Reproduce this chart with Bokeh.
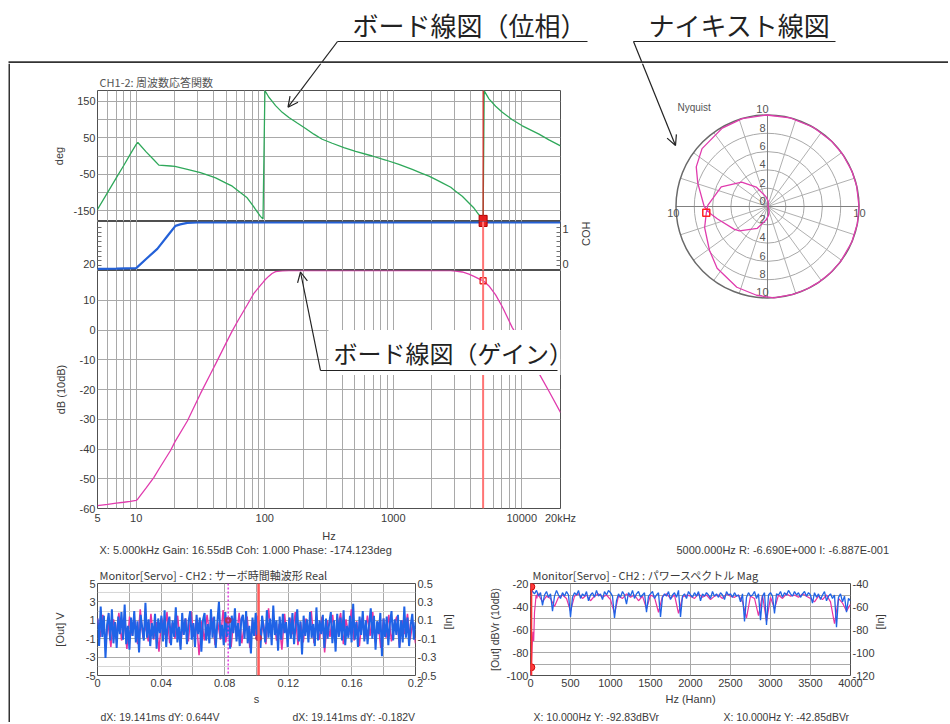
import numpy as np
from bokeh.plotting import figure
from bokeh.layouts import column, row
from bokeh.models import (Range1d, FixedTicker, LinearAxis, Grid, Label, Arrow,
                          OpenHead, Span)
from bokeh.core.properties import value
from bokeh.embed import file_html
from bokeh.resources import INLINE

FONT = "Noto Sans CJK JP"
AXFONT = "Liberation Sans"
TXT = "#3a3a3a"
GRID = "#a9a9a9"
FRAME = "#505050"
GREEN = "#2fa85a"
MAGENTA = "#e03cae"
BLUE = "#2461d8"

# ---------------- data : Bode ----------------
bode_freq_hz = [5, 6, 7, 8, 9, 10, 10.3, 12, 13.7, 15, 18.5, 20, 25, 31.6, 38,
                41.5, 50, 55.9, 62, 73, 82, 84.5, 92.6, 97, 100.3, 107.7, 114,
                121.4, 136.8, 154.2, 179, 208, 241, 280, 335, 413, 509, 686, 871,
                1107, 1405, 1650, 1894, 2150, 2406, 2800, 3055, 3442, 3879, 4243,
                4641, 5000, 5100, 5550, 6255, 7050, 8433, 10090, 13600, 16270, 20000]
gain_db = [-59.0, -58.6, -58.2, -57.9, -57.6, -57.3, -56.8, -53.0, -49.6, -46.8,
           -40.5, -37.6, -30.6, -21.4, -14.6, -11.4, -4.4, -0.3, 3.2, 8.4,
           12.2, 12.9, 15.0, 16.0, 16.8, 18.1, 19.0, 19.6, 19.9, 20.0,
           20.0, 20.0, 20.0, 20.0, 20.0, 20.0, 20.0, 20.0, 20.0, 20.0,
           20.0, 20.0, 20.0, 20.0, 20.0, 20.0, 19.8, 19.5, 18.8, 18.0,
           17.2, 16.55, 16.3, 14.8, 11.8, 7.8, 0.8, -4.6, -14.6, -20.6, -27.7]
phase_deg = [-147, -100, -60, -26, 5, 32, 37, 10.6, -10.4, -25,
             -27.5, -28.5, -36.5, -46, -55.5, -60, -74.5, -83, -95.4, -115,
             -139, -146, -166, -173, 180, 161.5, 150.9, 138.5, 120, 106,
             90.5, 75.7, 60, 46, 35, 23, 13, 0, -11, -23,
             -37, -46.9, -55.4, -65.1, -73.8, -86, -97, -110.8, -129.2, -143,
             -161.5, -174.1, 179, 157, 136.6, 120, 99.7, 83, 60, 44.3, 27.7]
coh_freq_hz = [5, 7, 10, 10.2, 12, 14.6, 18, 20.2, 22, 25, 30, 20000]
coherence = [0.035, 0.04, 0.05, 0.07, 0.245, 0.45, 0.76, 0.93, 0.96, 0.99, 1.0, 1.0]

cursor_freq_hz = 5000
cursor_gain_db = 16.55
cursor_phase_deg = -174.123
cursor_coh = 1.0
nyq_cursor = (-6.690, -0.6887)

bode_x_ticks = [5, 10, 100, 1000, 10000, 20000]
bode_x_labels = ["5", "10", "100", "1000", "10000", "20kHz"]
bode_x_minor = [6, 7, 8, 9, 20, 30, 40, 50, 60, 70, 80, 90, 200, 300, 400, 500,
                600, 700, 800, 900, 2000, 3000, 4000, 5000, 6000, 7000, 8000, 9000]
phase_ticks = [150, 50, -50, -150]
phase_labels = ["150", "50", "-50", "-150"]
phase_minor = [100, 0, -100]
gain_ticks = [10, 0, -10, -20, -30, -40, -50, -60]
gain_labels = ["10", "0", "-10", "-20", "-30", "-40", "-50", "-60"]

# ---------------- data : time waveform ----------------
in_signal = [0.12, -0.18, 0.25, -0.08, 0.15, -0.31, 0.05, 0.18, -0.12, 0.22, -0.15, 0.08, -0.2, 0.14, -0.05, 0.19, -0.11, 0.27, -0.16, 0.04,
             -0.22, 0.13, -0.07, 0.2, -0.14, 0.09, -0.25, 0.16, 0.02, -0.12, 0.29, -0.09, 0.11, -0.18, 0.07, -0.1, 0.17, -0.21, 0.12, -0.04,
             0.15, -0.13, 0.21, -0.19, 0.06, 0.14, -0.17, 0.1, -0.08, 0.24, -0.14, 0.03, -0.22, 0.18, -0.06, 0.12, -0.16, 0.09, 0.2, -0.11,
             0.07, -0.19, 0.16, -0.05, 0.13, -0.24, 0.1, 0.18, -0.12, 0.06, -0.15, 0.22, -0.09, 0.14, -0.2, 0.08, 0.3, -0.1, 0.05, -0.17,
             0.19, -0.08, 0.12, -0.21, 0.15, -0.04, 0.23, -0.13, 0.07, -0.18, 0.11, 0.16, -0.1, 0.2, -0.15, 0.04, -0.26, 0.13, -0.07, 0.18,
             -0.12, 0.09, -0.2, 0.15, 0.02, -0.14, 0.21, -0.09, 0.12, -0.17, 0.26, -0.06, 0.1, -0.23, 0.14, -0.11, 0.17, -0.04, 0.08, -0.19,
             0.13, -0.1, 0.18, -0.16, 0.05, 0.22, -0.13, 0.09, -0.27, 0.15, -0.07, 0.11, -0.14, 0.19, -0.09, 0.06, -0.18, 0.24, -0.12, 0.1,
             -0.05, 0.16, -0.2, 0.12, -0.1, 0.07, 0.19, -0.15, 0.1, -0.24, 0.17, -0.08, 0.13, -0.12, 0.21, -0.17, 0.04, -0.09, 0.15, -0.14,
             0.28, -0.11, 0.08, -0.19, 0.14, -0.06, 0.2, -0.13, 0.1, -0.16, 0.06, 0.23, -0.1, 0.15, -0.22, 0.09, -0.05, 0.18, -0.29, 0.12,
             -0.08, 0.14, -0.17, 0.07, 0.2, -0.12, 0.11, -0.06, 0.16, -0.2, 0.1, -0.14, 0.25, -0.09, 0.13, -0.18, 0.05, 0.17, -0.11, 0.08]
out_signal = [1.2, -0.8, 1.6, -1.4, 0.6, -1.9, 1.1, -0.5, 1.8, -1.2, 0.9, -2.1, 1.4, -0.7, 1.0, -1.6, 2.2, -0.9, 0.4, -1.3,
              1.7, -1.1, 0.8, -2.4, 1.3, -0.6, 1.9, -1.5, 0.7, -1.0, 1.5, -1.8, 0.5, 1.2, -1.3, 2.0, -0.8, 1.1, -2.8, 0.9,
              -1.2, 1.6, -0.6, 1.3, -1.7, 0.8, -1.1, 2.1, -1.4, 0.6, -1.9, 1.2, -0.9, 1.8, -1.5, 0.7, 1.4, -2.0, 1.0, -0.7,
              1.5, -1.3, 0.9, -1.6, 2.3, -0.8, 1.1, -1.2, 0.6, -2.2, 1.7, -1.0, 1.3, -0.5, 1.9, -1.7, 0.8, -1.4, 1.2, -0.9,
              2.0, -1.5, 0.7, -1.1, 1.4, -2.5, 1.0, -0.8, 1.6, -1.3, 0.5, 1.8, -1.6, 1.1, -0.6, 2.2, -1.2, 0.9, -1.8, 1.3,
              -1.0, 1.5, -0.7, 1.9, -1.4, 0.8, -2.0, 1.2, -0.9, 1.6, -1.3, 0.6, 1.4, -1.9, 1.0, -0.5, 1.7, -1.1, 0.8, -1.5]
record_length_s = 0.2
cursor_a_s = 0.0822
cursor_b_s = 0.1013
time_markers_s = [0.0822, 0.1013]
time_markers_v = [1.0, -0.9]
time_ticks = [0, 0.04, 0.08, 0.12, 0.16, 0.2]
time_labels = ["0", "0.04", "0.08", "0.12", "0.16", "0.2"]
time_minor = [0.02, 0.06, 0.1, 0.14, 0.18]
out_v_ticks = [5, 3, 1, -1, -3, -5]
out_v_labels = ["5", "3", "1", "-1", "-3", "-5"]
in_v_ticks = [0.5, 0.3, 0.1, -0.1, -0.3, -0.5]
in_v_labels = ["0.5", "0.3", "0.1", "-0.1", "-0.3", "-0.5"]

# ---------------- data : power spectrum ----------------
spec_in_step_hz = 25
spec_in_dbvr = [-43, -47, -49, -46, -51, -48, -59, -50, -47, -52, -49, -64, -51, -46, -50, -53, -48, -51, -47, -50,
                -69, -52, -48, -50, -46, -53, -49, -51, -47, -55, -50, -48, -52, -46, -51, -49, -54, -47, -50, -46,
                -48, -51, -70, -55, -49, -52, -47, -50, -58, -48, -51, -46, -53, -49, -47, -52, -50, -48, -65, -51,
                -49, -47, -53, -50, -48, -69, -52, -49, -51, -47, -54, -50, -48, -52, -46, -69, -51, -49, -53, -47,
                -50, -52, -48, -51, -47, -55, -49, -51, -48, -50, -53, -47, -51, -49, -52, -48, -50, -54, -47, -50,
                -49, -52, -48, -51, -50, -56, -49, -73, -52, -48, -51, -50, -47, -53, -49, -72, -51, -48, -76, -50,
                -48, -51, -66, -49, -50, -47, -52, -48, -50, -46, -49, -51, -47, -50, -48, -52, -49, -47, -51, -48,
                -50, -57, -48, -52, -49, -54, -50, -47, -55, -51, -49, -53, -50, -78, -52, -49, -56, -51, -65, -53, -55]
spec_out_freq_hz = [0, 10, 20, 30, 40, 50, 60, 70, 80, 90] + list(range(100, 4001, 50))
spec_out_dbvr = [-100, -92.8, -75, -62, -70, -45, -38, -30, -33, -28,
                 -30, -36, -31, -33, -40, -32, -30, -33, -44, -31,
                 -29, -33, -30, -35, -31, -29, -32, -30, -34, -46,
                 -31, -33, -29, -32, -30, -35, -31, -42, -30, -32,
                 -45, -31, -29, -33, -30, -46, -32, -30, -31, -33,
                 -29, -32, -30, -34, -31, -30, -33, -29, -31, -32,
                 -30, -36, -50, -31, -33, -48, -30, -53, -32, -42,
                 -30, -33, -29, -31, -30, -32, -29, -31, -33, -36,
                 -31, -34, -30, -36, -55, -33, -37, -44, -38]
spec_cursor_hz = 10
spec_cursor_out = -92.83
spec_cursor_in = -42.85
spec_x_ticks = [0, 500, 1000, 1500, 2000, 2500, 3000, 3500, 4000]
spec_x_labels = ["0", "500", "1000", "1500", "2000", "2500", "3000", "3500", "4000"]
spec_out_ticks = [-20, -40, -60, -80, -100]
spec_out_labels = ["-20", "-40", "-60", "-80", "-100"]
spec_in_ticks = [-40, -60, -80, -100, -120]
spec_in_labels = ["-40", "-60", "-80", "-100", "-120"]

# ---------------- helpers ----------------
def overrides(ticks, labels):
    return {t: l for t, l in zip(ticks, labels)}


def style_axis(ax, size="11px", standoff=2, label_standoff=2):
    ax.major_label_text_font = AXFONT
    ax.major_label_text_font_size = size
    ax.major_label_text_color = TXT
    ax.axis_label_text_font = AXFONT
    ax.axis_label_text_font_size = size
    ax.axis_label_text_font_style = "normal"
    ax.axis_label_text_color = TXT
    ax.axis_line_color = None
    ax.major_tick_line_color = None
    ax.minor_tick_line_color = None
    ax.major_tick_out = 0
    ax.minor_tick_out = 0
    ax.major_label_standoff = standoff
    ax.axis_label_standoff = label_standoff


def decor(w, h, x0, x1, y_top, y_bot, left=0, right=0):
    p = figure(width=w, height=h, x_range=Range1d(x0, x1), y_range=Range1d(y_bot, y_top),
               x_axis_location=None, y_axis_location=None, toolbar_location=None,
               output_backend="svg", min_border=0, min_border_left=left,
               min_border_right=right, outline_line_color=None)
    p.grid.visible = False
    return p


def put_text(p, x, y, txt, size="11px", color=TXT, align="left", font=FONT):
    p.text(x=[x], y=[y], text=[txt], text_font=value(font), text_font_size=size,
           text_color=color, text_baseline="middle", text_align=align)


def style_title(p, txt):
    p.title.text = txt
    p.title.text_font = FONT
    p.title.text_font_size = "11px"
    p.title.text_font_style = "normal"
    p.title.text_color = TXT
    p.title.standoff = 2
    p.title.offset = 2


L10_5, L10_4000 = np.log10(5), np.log10(4000)


def sx_to_f(sx):
    return 10 ** (L10_5 + (sx - 97) / 463 * L10_4000)


def sy_to_phase(sy):
    return 180 - (sy - 90) / 131 * 360


def sy_to_gain(sy):
    return 20 - (sy - 270) / 238 * 80


# ---------------- header with call-outs ----------------
header = decor(948, 63, 0, 948, 0, 63)
put_text(header, 352, 24, "ボード線図（位相）", size="26px", color="#222222")
put_text(header, 648, 24, "ナイキスト線図", size="26px", color="#222222")
header.segment(x0=[337, 633, 337, 633], y0=[41, 41, 41, 41],
               x1=[587, 835, 320.4, 641.9], y1=[41, 41, 63, 63],
               line_color="#222222", line_width=1.2)
header.segment(x0=[8], y0=[62], x1=[948], y1=[62], line_color="#333333", line_width=2.5)

bar = decor(10, 659, 0, 10, 63, 722)
bar.quad(left=[8], right=[10], top=[63], bottom=[722], fill_color="#333333", line_color=None)

# ---------------- Bode title strip ----------------
tstrip = decor(605, 27, 97, 560, 63, 90, left=87, right=55)
put_text(tstrip, 99, 81, "CH1-2: 周波数応答関数", size="11px", color="#555555")
tstrip.segment(x0=[320.4], y0=[63], x1=[300.1], y1=[90], line_color="#222222", line_width=1.2)

x_rng = Range1d(5, 20000)
xtick = FixedTicker(ticks=bode_x_ticks, minor_ticks=bode_x_minor)


def bode_fig(h, bottom, y_rng):
    p = figure(width=605, height=h, x_range=x_rng, y_range=y_rng, x_axis_type="log",
               x_axis_location=None, toolbar_location=None, output_backend="svg",
               min_border_left=87, min_border_right=55, min_border_top=0,
               min_border_bottom=bottom, outline_line_color=FRAME)
    return p


# phase panel
pp = bode_fig(131, 0, Range1d(-180, 180))
ptick = FixedTicker(ticks=phase_ticks, minor_ticks=phase_minor)
pp.yaxis.ticker = ptick
pp.ygrid.ticker = ptick
pp.yaxis.major_label_overrides = overrides(phase_ticks, phase_labels)
pp.yaxis.axis_label = "deg"
style_axis(pp.yaxis[0], label_standoff=5)
pp.ygrid.grid_line_color = GRID
pp.ygrid.minor_grid_line_color = GRID
pp.add_layout(Grid(dimension=0, ticker=xtick, grid_line_color=GRID, minor_grid_line_color=GRID))
pp.line(bode_freq_hz, phase_deg, line_color=GREEN, line_width=1.3)
pp.add_layout(Span(location=cursor_freq_hz, dimension="height", line_color="#e02020", line_width=1.2))
pp.scatter([cursor_freq_hz], [cursor_phase_deg], marker="square", size=8,
           fill_color="#e82020", line_color="#b00000")
pp.add_layout(Arrow(end=OpenHead(size=10, line_width=1.2, line_color="#222222"),
                    x_start=sx_to_f(300.1), y_start=sy_to_phase(90),
                    x_end=sx_to_f(287.5), y_end=sy_to_phase(106.7),
                    line_color="#222222", line_width=1.2))

# coherence panel
pc = bode_fig(49, 0, Range1d(0, 1.02))
coh_minor = [0.1, 0.2, 0.3, 0.4, 0.5, 0.6, 0.7, 0.8, 0.9]
pc.yaxis.ticker = FixedTicker(ticks=[0.14], minor_ticks=coh_minor)
pc.yaxis.major_label_overrides = {0.14: "20"}
style_axis(pc.yaxis[0])
pc.yaxis.minor_tick_line_color = "#707070"
pc.yaxis.minor_tick_in = 4
pc.ygrid.visible = False
rax = LinearAxis(ticker=FixedTicker(ticks=[0.14, 0.87], minor_ticks=coh_minor),
                 major_label_overrides={0.14: "0", 0.87: "1"}, axis_label="COH")
style_axis(rax, label_standoff=14)
rax.minor_tick_line_color = "#707070"
rax.minor_tick_in = 4
rax.axis_label_orientation = np.pi / 2
pc.add_layout(rax, "right")
pc.add_layout(Grid(dimension=0, ticker=xtick, grid_line_color=GRID, minor_grid_line_color=GRID))
pc.line(coh_freq_hz, coherence, line_color=BLUE, line_width=2.2)
pc.add_layout(Span(location=cursor_freq_hz, dimension="height", line_color="#ff7474", line_width=2))
pc.scatter([cursor_freq_hz], [cursor_coh], marker="square", size=8,
           fill_color="#e82020", line_color="#b00000")

# gain panel
pg = figure(width=605, height=274, x_range=x_rng, y_range=Range1d(-60, 20), x_axis_type="log",
            toolbar_location=None, output_backend="svg", min_border_left=87,
            min_border_right=55, min_border_top=0, min_border_bottom=36, outline_line_color=FRAME)
pg.xaxis.ticker = xtick
pg.xgrid.ticker = xtick
pg.xaxis.major_label_overrides = overrides(bode_x_ticks, bode_x_labels)
pg.xaxis.axis_label = "Hz"
style_axis(pg.xaxis[0], standoff=3, label_standoff=3)
pg.xgrid.grid_line_color = GRID
pg.xgrid.minor_grid_line_color = GRID
gtick = FixedTicker(ticks=gain_ticks)
pg.yaxis.ticker = gtick
pg.ygrid.ticker = gtick
pg.yaxis.major_label_overrides = overrides(gain_ticks, gain_labels)
pg.yaxis.axis_label = "dB (10dB)"
style_axis(pg.yaxis[0], label_standoff=10)
pg.ygrid.grid_line_color = GRID
pg.line(bode_freq_hz, gain_db, line_color=MAGENTA, line_width=1.3)
pg.add_layout(Span(location=cursor_freq_hz, dimension="height", line_color="#ff7474", line_width=2))
pg.scatter([cursor_freq_hz], [cursor_gain_db], marker="square", size=6,
           fill_color=None, line_color="#e82020", line_width=1.3)
pg.add_layout(Label(x=sx_to_f(328), y=sy_to_gain(352), text="ボード線図（ゲイン）",
                    text_font=FONT, text_font_size="24px", text_color="#222222",
                    text_baseline="middle", text_align="left",
                    background_fill_color="white", padding=5))
pg.add_layout(Arrow(end=None, x_start=sx_to_f(320), y_start=sy_to_gain(370),
                    x_end=sx_to_f(557), y_end=sy_to_gain(370),
                    line_color="#222222", line_width=1.2))
pg.add_layout(Arrow(end=OpenHead(size=10, line_width=1.2, line_color="#222222"),
                    x_start=sx_to_f(320), y_start=sy_to_gain(370),
                    x_end=sx_to_f(300), y_end=sy_to_gain(271.5),
                    line_color="#222222", line_width=1.2))

# ---------------- Nyquist ----------------
S, CX, CY = 9.15, 767, 206


def nx(sx):
    return (sx - CX) / S


def ny(sy):
    return (CY - sy) / S


nq = figure(width=333, height=481, x_range=Range1d(nx(615), nx(948)), y_range=Range1d(ny(544), ny(63)),
            x_axis_location=None, y_axis_location=None, toolbar_location=None,
            output_backend="svg", min_border=0, outline_line_color=None)
nq.grid.visible = False
rings = [2, 4, 6, 8]
nq.circle(x=[0] * len(rings), y=[0] * len(rings), radius=rings, fill_color=None,
          line_color="#a8a8a8", line_width=1)
spoke_deg = np.arange(0, 360, 18)
nq.segment(x0=np.zeros(len(spoke_deg)), y0=np.zeros(len(spoke_deg)),
           x1=10 * np.cos(np.deg2rad(spoke_deg)), y1=10 * np.sin(np.deg2rad(spoke_deg)),
           line_color="#b0b0b0", line_width=1)
nq.segment(x0=[-10, 0], y0=[0, -10], x1=[10, 0], y1=[0, 10], line_color="#808080", line_width=1)
nq.circle(x=[0], y=[0], radius=[10], fill_color=None, line_color="#6a6a6a", line_width=1.5)
ring_labels = ["10", "8", "6", "4", "2", "0", "2", "4", "6", "8", "10"]
ring_vals = [10, 8, 6, 4, 2, 0, -2, -4, -6, -8, -10]
nq.text(x=[-0.55] * len(ring_vals), y=[v + 0.62 for v in ring_vals], text=ring_labels,
        text_font=value(AXFONT), text_font_size="11px", text_color="#555555",
        text_align="center", text_baseline="middle")
nq.text(x=[-10.3, 10.05], y=[-0.72, -0.72], text=["10", "10"], text_font=value(AXFONT),
        text_font_size="11px", text_color="#555555", text_align="center", text_baseline="middle")
nq.text(x=[nx(677)], y=[ny(107)], text=["Nyquist"], text_font=value(AXFONT),
        text_font_size="10px", text_color="#555555", text_align="left", text_baseline="middle")
mag = 10 ** (np.array(gain_db) / 20.0)
ph = np.deg2rad(phase_deg)
nq.line(mag * np.cos(ph), mag * np.sin(ph), line_color=MAGENTA, line_width=1.3)
nq.scatter([nyq_cursor[0]], [nyq_cursor[1]], marker="square", size=7, fill_color=None,
           line_color="#ff2020", line_width=1.5)
nq.add_layout(Arrow(end=OpenHead(size=10, line_width=1.2, line_color="#222222"),
                    x_start=nx(641.9), y_start=ny(63), x_end=nx(675), y_end=ny(145),
                    line_color="#222222", line_width=1.2))

# ---------------- readouts 1 ----------------
rd1 = decor(938, 12, 10, 948, 544, 556)
put_text(rd1, 99, 549, "X: 5.000kHz  Gain: 16.55dB Coh: 1.000 Phase: -174.123deg", size="11px", font=AXFONT)
put_text(rd1, 676, 549, "5000.000Hz   R: -6.690E+000   I: -6.887E-001", size="11px", font=AXFONT)

# ---------------- time waveform ----------------
bl = figure(width=460, height=154, x_range=Range1d(0, record_length_s), y_range=Range1d(-5, 5),
            toolbar_location=None, output_backend="svg", min_border_left=87, min_border_right=55,
            min_border_top=27, min_border_bottom=35, outline_line_color=FRAME)
bl.extra_y_ranges = {"in": Range1d(-0.5, 0.5)}
style_title(bl, "Monitor[Servo] - CH2 : サーボ時間軸波形 Real")
ttick = FixedTicker(ticks=time_ticks, minor_ticks=time_minor)
bl.xaxis.ticker = ttick
bl.xgrid.ticker = ttick
bl.xaxis.major_label_overrides = overrides(time_ticks, time_labels)
bl.xaxis.axis_label = "s"
style_axis(bl.xaxis[0], standoff=3, label_standoff=3)
bl.xgrid.grid_line_color = GRID
bl.xgrid.minor_grid_line_color = GRID
vtick = FixedTicker(ticks=out_v_ticks, minor_ticks=[4, 2, 0, -2, -4])
bl.yaxis.ticker = vtick
bl.ygrid.ticker = vtick
bl.yaxis.major_label_overrides = overrides(out_v_ticks, out_v_labels)
bl.yaxis.axis_label = "[Out] V"
style_axis(bl.yaxis[0], label_standoff=17)
bl.ygrid.grid_line_color = GRID
bl.ygrid.minor_grid_line_color = "#d6d6d6"
ax_in = LinearAxis(y_range_name="in", ticker=FixedTicker(ticks=in_v_ticks),
                   major_label_overrides=overrides(in_v_ticks, in_v_labels), axis_label="[In]")
style_axis(ax_in, label_standoff=9)
ax_in.axis_label_orientation = np.pi / 2
bl.add_layout(ax_in, "right")
t_out = np.linspace(0, record_length_s, len(out_signal))
t_in = np.linspace(0, record_length_s, len(in_signal))
bl.line(t_out, out_signal, line_color="#e8339f", line_width=1.5)
bl.line(t_in, in_signal, y_range_name="in", line_color="#1f63e6", line_width=2)
bl.add_layout(Span(location=cursor_a_s, dimension="height", line_color="#e040e0",
                   line_width=1.5, line_dash="2 2"))
bl.add_layout(Span(location=cursor_b_s, dimension="height", line_color="#ff5a5a", line_width=2.5))
bl.scatter(time_markers_s, time_markers_v, marker="circle", size=6, fill_color="#b03060",
           line_color="#b03060")

# ---------------- power spectrum ----------------
br = figure(width=478, height=154, x_range=Range1d(0, 4000), y_range=Range1d(-100, -20),
            toolbar_location=None, output_backend="svg", min_border_left=60, min_border_right=98,
            min_border_top=27, min_border_bottom=35, outline_line_color=FRAME)
br.extra_y_ranges = {"in": Range1d(-120, -40)}
style_title(br, "Monitor[Servo] - CH2 : パワースペクトル Mag")
stick = FixedTicker(ticks=spec_x_ticks)
br.xaxis.ticker = stick
br.xgrid.ticker = stick
br.xaxis.major_label_overrides = overrides(spec_x_ticks, spec_x_labels)
br.xaxis.axis_label = "Hz (Hann)"
style_axis(br.xaxis[0], standoff=3, label_standoff=3)
br.xgrid.grid_line_color = GRID
otick = FixedTicker(ticks=spec_out_ticks, minor_ticks=[-30, -50, -70, -90])
br.yaxis.ticker = otick
br.ygrid.ticker = otick
br.yaxis.major_label_overrides = overrides(spec_out_ticks, spec_out_labels)
br.yaxis.axis_label = "[Out] dBVr (10dB)"
style_axis(br.yaxis[0], label_standoff=2)
br.yaxis.axis_label_text_font_size = "10.5px"
br.ygrid.grid_line_color = GRID
br.ygrid.minor_grid_line_color = GRID
ax_in2 = LinearAxis(y_range_name="in", ticker=FixedTicker(ticks=spec_in_ticks),
                    major_label_overrides=overrides(spec_in_ticks, spec_in_labels), axis_label="[In]")
style_axis(ax_in2, label_standoff=2)
ax_in2.axis_label_orientation = np.pi / 2
br.add_layout(ax_in2, "right")
f_in = np.arange(len(spec_in_dbvr)) * spec_in_step_hz
br.line(spec_out_freq_hz, spec_out_dbvr, line_color="#e8339f", line_width=1.2)
br.line(f_in, spec_in_dbvr, y_range_name="in", line_color="#1f63e6", line_width=1.3)
br.add_layout(Span(location=spec_cursor_hz, dimension="height", line_color="#ff3030", line_width=2))
br.scatter([spec_cursor_hz], [spec_cursor_out], marker="circle", size=7, fill_color="#ff4040",
           line_color="#d00000")
br.scatter([spec_cursor_hz], [spec_cursor_in], y_range_name="in", marker="circle", size=7,
           fill_color="#ff4040", line_color="#d00000")

# ---------------- readouts 2 ----------------
rd2 = decor(938, 12, 10, 948, 710, 722)
put_text(rd2, 100, 716, "dX: 19.141ms dY: 0.644V", size="10.5px", font=AXFONT)
put_text(rd2, 292, 716, "dX: 19.141ms dY: -0.182V", size="10.5px", font=AXFONT)
put_text(rd2, 533, 716, "X: 10.000Hz Y: -92.83dBVr", size="10.5px", font=AXFONT)
put_text(rd2, 723, 716, "X: 10.000Hz Y: -42.85dBVr", size="10.5px", font=AXFONT)

left_col = column(tstrip, pp, pc, pg)
mid = row(left_col, nq)
inner = column(mid, rd1, row(bl, br), rd2)
layout = column(header, row(bar, inner))

open("out.html", "w").write(file_html(layout, INLINE))
